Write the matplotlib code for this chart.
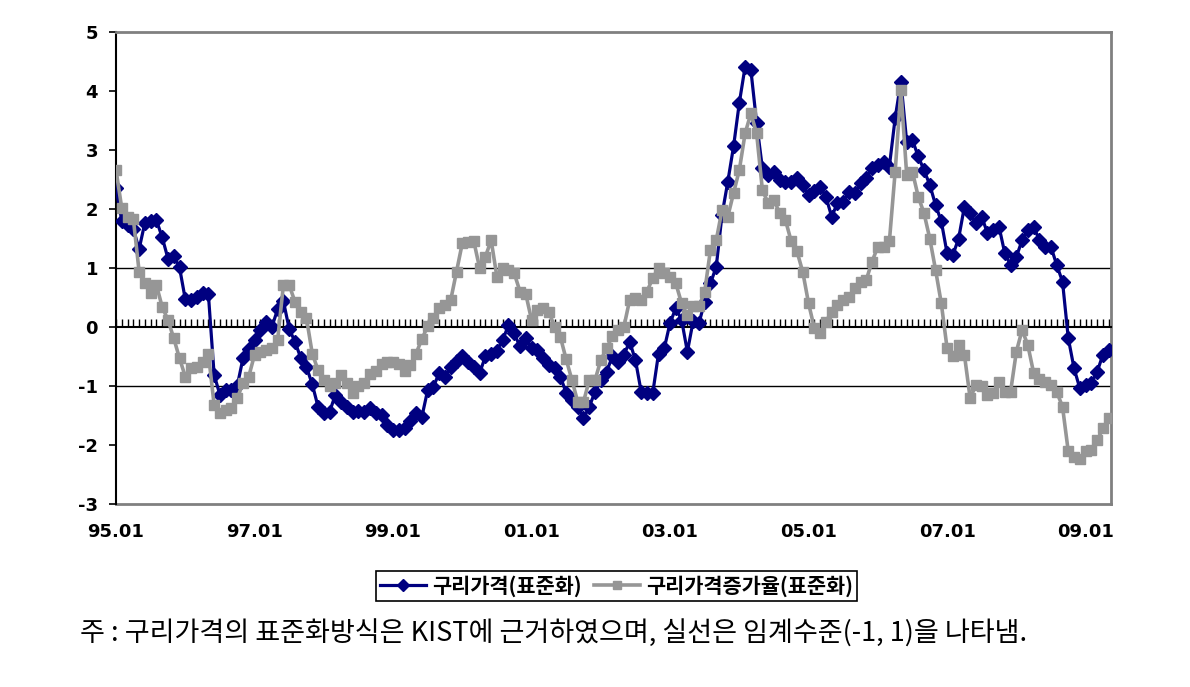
import matplotlib
matplotlib.use('Agg')
import matplotlib.pyplot as plt
import numpy as np

plt.rcParams['font.family'] = ['Noto Sans CJK KR', 'DejaVu Sans']
plt.rcParams['axes.unicode_minus'] = False

# monthly, 95.01 ~ 09.05
year_labels = ['95.01', '97.01', '99.01', '01.01', '03.01', '05.01', '07.01', '09.01']
label_pos = [0, 24, 48, 72, 96, 120, 144, 168]

# 구리가격(표준화)
copper_price = [
    2.35, 1.80, 1.73, 1.66, 1.32, 1.77, 1.79, 1.81, 1.52, 1.16, 1.20, 1.01,
    0.47, 0.45, 0.51, 0.57, 0.56, -0.81, -1.15, -1.07, -1.06, -1.00, -0.53, -0.38,
    -0.22, -0.05, 0.09, 0.00, 0.30, 0.44, -0.03, -0.25, -0.52, -0.68, -0.97, -1.35,
    -1.46, -1.44, -1.15, -1.27, -1.35, -1.44, -1.42, -1.44, -1.38, -1.45, -1.49, -1.66,
    -1.75, -1.75, -1.72, -1.60, -1.46, -1.52, -1.07, -1.01, -0.78, -0.84, -0.67, -0.58,
    -0.50, -0.60, -0.67, -0.78, -0.50, -0.45, -0.40, -0.22, 0.03, -0.11, -0.33, -0.19,
    -0.36, -0.39, -0.53, -0.64, -0.70, -0.84, -1.12, -1.24, -1.35, -1.55, -1.35, -1.10,
    -0.90, -0.76, -0.50, -0.59, -0.47, -0.25, -0.56, -1.10, -1.12, -1.12, -0.45, -0.36,
    0.07, 0.32, 0.12, -0.42, 0.10, 0.06, 0.43, 0.74, 1.02, 1.90, 2.46, 3.06,
    3.80, 4.41, 4.36, 3.46, 2.69, 2.58, 2.63, 2.49, 2.46, 2.45, 2.52, 2.41,
    2.24, 2.30, 2.38, 2.21, 1.87, 2.10, 2.12, 2.29, 2.27, 2.44, 2.52, 2.69,
    2.75, 2.80, 2.72, 3.54, 4.16, 3.14, 3.17, 2.89, 2.66, 2.41, 2.07, 1.79,
    1.25, 1.22, 1.50, 2.04, 1.93, 1.76, 1.87, 1.59, 1.64, 1.70, 1.25, 1.05,
    1.19, 1.47, 1.64, 1.70, 1.47, 1.36, 1.36, 1.05, 0.77, -0.19, -0.70, -1.04,
    -0.98, -0.95, -0.76, -0.47, -0.39,
]

# 구리가격증가율(표준화)
copper_growth = [
    2.66, 2.01, 1.87, 1.83, 0.94, 0.74, 0.57, 0.71, 0.34, 0.12, -0.19, -0.53,
    -0.84, -0.70, -0.67, -0.60, -0.45, -1.32, -1.46, -1.40, -1.38, -1.21, -0.95, -0.84,
    -0.47, -0.42, -0.39, -0.36, -0.22, 0.71, 0.71, 0.43, 0.25, 0.15, -0.45, -0.73,
    -0.90, -1.00, -0.95, -0.81, -0.95, -1.12, -1.00, -0.95, -0.80, -0.75, -0.62, -0.60,
    -0.59, -0.62, -0.74, -0.65, -0.45, -0.20, 0.01, 0.15, 0.32, 0.37, 0.46, 0.94,
    1.42, 1.44, 1.45, 1.00, 1.19, 1.47, 0.85, 1.00, 0.97, 0.91, 0.60, 0.56,
    0.12, 0.28, 0.32, 0.26, 0.00, -0.17, -0.55, -0.90, -1.27, -1.27, -0.90, -0.90,
    -0.56, -0.36, -0.16, -0.05, 0.00, 0.46, 0.49, 0.46, 0.60, 0.83, 1.00, 0.92,
    0.85, 0.74, 0.40, 0.20, 0.35, 0.35, 0.60, 1.31, 1.47, 1.98, 1.87, 2.27,
    2.66, 3.28, 3.62, 3.28, 2.32, 2.10, 2.15, 1.93, 1.81, 1.45, 1.28, 0.93,
    0.40, -0.02, -0.11, 0.09, 0.26, 0.37, 0.45, 0.51, 0.66, 0.77, 0.80, 1.11,
    1.36, 1.36, 1.45, 2.63, 4.02, 2.58, 2.63, 2.21, 1.93, 1.50, 0.97, 0.40,
    -0.36, -0.50, -0.31, -0.47, -1.21, -0.98, -1.00, -1.15, -1.12, -0.93, -1.10, -1.10,
    -0.42, -0.05, -0.31, -0.78, -0.88, -0.93, -0.98, -1.10, -1.35, -2.11, -2.20, -2.23,
    -2.11, -2.08, -1.92, -1.72, -1.55,
]

note = '주 : 구리가격의 표준화방식은 KIST에 근거하였으며, 실선은 임계수준(-1, 1)을 나타냄.'

x = np.arange(len(copper_price))

fig = plt.figure(figsize=(11.9, 6.87), dpi=100)
ax = fig.add_axes([0.0975, 0.2664, 0.8361, 0.687])

l1, = ax.plot(x, copper_price, color='#000080', lw=2.3, marker='D', ms=7.5,
              label='구리가격(표준화)', zorder=3)
l2, = ax.plot(x, copper_growth, color='#969696', lw=2.6, marker='s', ms=7.5,
              label='구리가격증가율(표준화)', zorder=4)

ax.axhline(1, color='black', lw=1, zorder=1)
ax.axhline(-1, color='black', lw=1, zorder=1)

ax.set_xlim(0, 172.4)
ax.set_ylim(-3, 5)
ax.set_yticks(range(-3, 6))
ax.tick_params(axis='y', direction='out', length=5, width=1.2, pad=8,
               labelsize=13)
for t in ax.get_yticklabels():
    t.set_fontfamily('DejaVu Sans')
    t.set_fontweight('bold')

# category axis crossing at 0 with a tick every month
ax.spines['bottom'].set_position(('data', 0))
ax.spines['bottom'].set_linewidth(1.5)
ax.set_xticks(x)
ax.tick_params(axis='x', direction='in', length=6, width=1, labelbottom=False)

ax.spines['left'].set_linewidth(1.5)
for s in ['top', 'right']:
    ax.spines[s].set_color('#808080')
    ax.spines[s].set_linewidth(2)

sec = ax.secondary_xaxis('bottom')
sec.set_xticks(label_pos, labels=year_labels)
sec.tick_params(length=0, pad=14, labelsize=13)
sec.spines['bottom'].set_color('#808080')
sec.spines['bottom'].set_linewidth(2)
for t in sec.get_xticklabels():
    t.set_fontfamily('DejaVu Sans')
    t.set_fontweight('bold')

leg = fig.legend(handles=[l1, l2], loc='center', bbox_to_anchor=(0.518, 0.147),
                 ncol=2, fancybox=False, edgecolor='black', framealpha=1,
                 prop={'weight': 'bold', 'size': 15}, handlelength=2.2,
                 columnspacing=0.6, handletextpad=0.3, borderpad=0.2,
                 markerscale=0.8)
leg.get_frame().set_linewidth(1.2)

fig.text(0.067, 0.077, note, fontsize=19.5, va='center', ha='left')

fig.savefig('out.png', dpi=100)
